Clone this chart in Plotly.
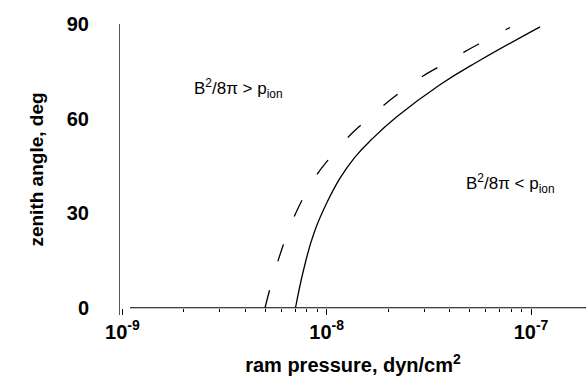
import plotly.graph_objects as go

# Critical zenith angle vs. solar-wind ram pressure
solid_p = [7.035e-9, 7.745e-9, 8.665e-9, 1.0e-8, 1.162e-8, 1.375e-8, 1.666e-8,
           2.202e-8, 3.583e-8, 5.63e-8, 1.107e-7]
solid_z = [0, 12.6, 23.7, 33.2, 41.1, 47.8, 53.5, 60.55, 70.75, 78.5, 89.1]

dashed_p = [4.99e-9, 6.13e-9, 7.61e-9, 9.06e-9, 1.015e-8, 1.272e-8, 1.489e-8, 1.908e-8,
            2.234e-8, 2.96e-8, 3.505e-8, 4.70e-8, 5.63e-8, 7.89e-8]
dashed_z = [0, 19.9, 34.4, 42.7, 46.8, 54.1, 58.3, 64.3, 67.8, 73.5, 76.3, 81.1, 83.9, 88.9]

x_major = [1e-9, 1e-8, 1e-7]
x_major_text = ["10<sup>-9</sup>", "10<sup>-8</sup>", "10<sup>-7</sup>"]
x_minor = [m * d for d in (1e-9, 1e-8, 1e-7) for m in range(2, 10)]
y_ticks = [0, 30, 60, 90]

FONT = "Liberation Sans, Arial, sans-serif"
X_RANGE = [-9.0117, -6.731]
Y_RANGE = [-2.3, 90]

fig = go.Figure()
fig.add_trace(go.Scatter(x=dashed_p, y=dashed_z, mode="lines",
                         line=dict(color="black", width=1.3, dash="18px,30px", shape="spline",
                                   smoothing=1.3),
                         showlegend=False))
fig.add_trace(go.Scatter(x=solid_p, y=solid_z, mode="lines",
                         line=dict(color="black", width=1.3, shape="spline", smoothing=1.3),
                         showlegend=False))

# x axis line starts a little to the right of the y axis
fig.add_shape(type="line", xref="paper", yref="y", x0=10 / 466, x1=1, y0=0, y1=0,
              line=dict(color="black", width=1))

fig.add_annotation(x=-8.661, y=69.6, xref="x", yref="y", xanchor="left", yanchor="middle",
                   text="B<sup>2</sup>/8π > p<sub>ion</sub>", showarrow=False,
                   font=dict(family=FONT, size=17, color="black"))
fig.add_annotation(x=-7.327, y=39.5, xref="x", yref="y", xanchor="left", yanchor="middle",
                   text="B<sup>2</sup>/8π < p<sub>ion</sub>", showarrow=False,
                   font=dict(family=FONT, size=17, color="black"))

fig.update_layout(
    width=586, height=379,
    margin=dict(l=120, r=0, t=24, b=64),
    paper_bgcolor="white", plot_bgcolor="white",
    font=dict(family=FONT, color="black"),
    xaxis=dict(
        type="log", range=X_RANGE, showgrid=False, zeroline=False, showline=False,
        anchor="free", position=2.3 / 92.3,
        tickmode="array", tickvals=x_major, ticktext=x_major_text,
        ticks="outside", ticklen=6, tickwidth=1, tickcolor="black",
        tickfont=dict(family=FONT, size=20, weight="bold"),
        minor=dict(tickmode="array", tickvals=x_minor, ticks="outside", ticklen=3,
                   tickwidth=1, tickcolor="black", showgrid=False),
        title=dict(text="ram pressure, dyn/cm<sup>2</sup>", standoff=16,
                   font=dict(family=FONT, size=20, weight="bold")),
    ),
    yaxis=dict(
        range=Y_RANGE, showgrid=False, zeroline=False,
        showline=True, linecolor="#555555", linewidth=1,
        tickmode="array", tickvals=y_ticks, ticks="",
        ticklabelstandoff=26,
        tickfont=dict(family=FONT, size=20, weight="bold"),
        title=dict(text="zenith angle, deg", standoff=18,
                   font=dict(family=FONT, size=19, weight="bold")),
    ),
)

fig.write_html("out.html")
